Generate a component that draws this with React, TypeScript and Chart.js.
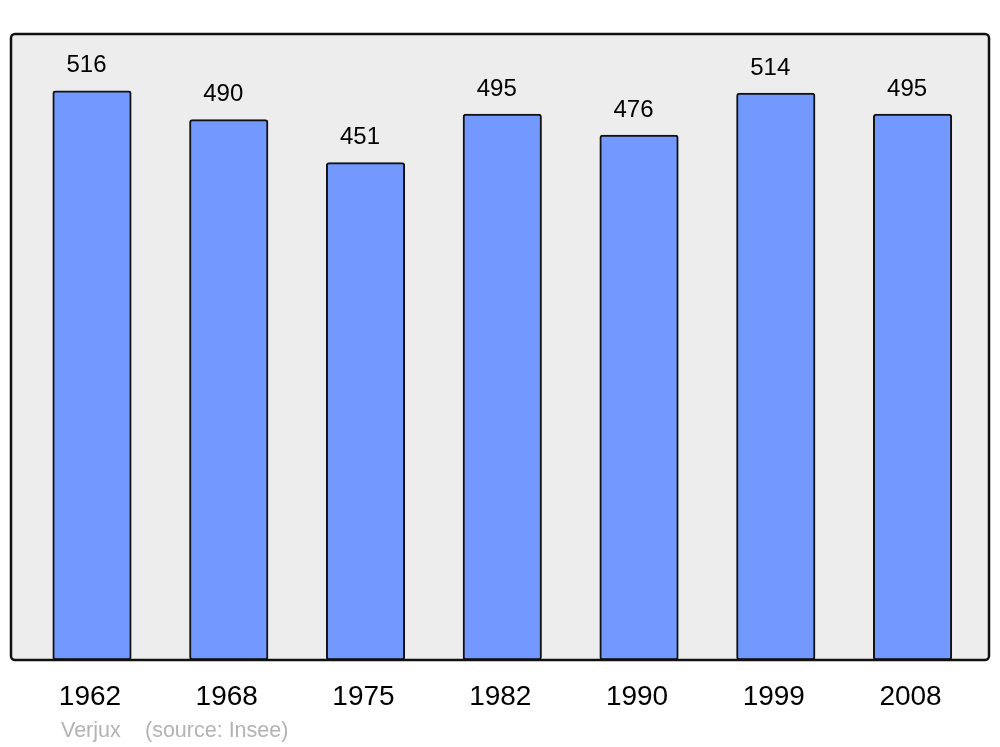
import React, { useEffect, useRef } from "react";
import { Chart, registerables } from "chart.js";

Chart.register(...registerables);

const years = ["1962", "1968", "1975", "1982", "1990", "1999", "2008"];
const population = [516, 490, 451, 495, 476, 514, 495];
const footerName = "Verjux";
const footerSource = "(source: Insee)";

const FONT = "'Liberation Sans', Arial, sans-serif";

const framePlugin = {
  id: "frame",
  beforeDatasetsDraw(chart: any) {
    const { ctx, chartArea } = chart;
    const { left, top, right, bottom } = chartArea;
    ctx.save();
    ctx.beginPath();
    ctx.roundRect(left, top, right - left, bottom - top, 4);
    ctx.fillStyle = "#ededed";
    ctx.fill();
    ctx.restore();
  },
  afterDatasetsDraw(chart: any) {
    const { ctx, chartArea } = chart;
    const { left, top, right, bottom } = chartArea;
    ctx.save();
    ctx.beginPath();
    ctx.roundRect(left, top, right - left, bottom - top, 4);
    ctx.lineWidth = 2.5;
    ctx.strokeStyle = "#111111";
    ctx.stroke();
    // value labels
    const meta = chart.getDatasetMeta(0);
    ctx.fillStyle = "#000";
    ctx.font = `24px ${FONT}`;
    ctx.textAlign = "center";
    ctx.textBaseline = "alphabetic";
    meta.data.forEach((bar: any, i: number) => {
      ctx.fillText(String(population[i]), bar.x - 5.5, bar.y - 18.5);
    });
    // footer
    ctx.fillStyle = "#b3b3b3";
    ctx.font = `21.5px ${FONT}`;
    ctx.textAlign = "left";
    ctx.fillText(footerName, 61, 737);
    ctx.fillText(footerSource, 145, 737);
    ctx.restore();
  },
};

export default function App() {
  const ref = useRef<HTMLCanvasElement>(null);
  useEffect(() => {
    document.body.style.margin = "0";
    const chart = new Chart(ref.current!, {
      type: "bar",
      data: {
        datasets: [
          {
            data: population.map((v, i) => ({ x: i, y: v })),
            backgroundColor: "#7399ff",
            borderColor: "#111111",
            borderWidth: 2,
            borderRadius: 3,
            borderSkipped: false,
            barThickness: 78.5,
          },
        ],
      },
      options: {
        animation: false,
        responsive: false,
        maintainAspectRatio: false,
        layout: { padding: { top: 34, left: 11, right: 11, bottom: 0 } },
        plugins: { legend: { display: false }, tooltip: { enabled: false } },
        scales: {
          x: {
            type: "linear",
            offset: false,
            min: -0.5923,
            max: 6.559,
            grid: { display: false, drawTicks: false, offset: false },
            border: { display: false },
            afterBuildTicks: (scale: any) => {
              scale.ticks = years.map((_, i) => ({ value: i }));
            },
            afterFit: (scale: any) => {
              scale.height = 87;
            },
            ticks: {
              autoSkip: false,
              maxRotation: 0,
              padding: 20,
              labelOffset: -2,
              color: "#000",
              font: { family: FONT, size: 28 },
              callback: (v: any) => years[v] ?? "",
            },
          },
          y: {
            display: false,
            min: 0,
            max: 567.6,
          },
        },
      },
      plugins: [framePlugin],
    } as any);
    return () => chart.destroy();
  }, []);
  return (
    <div style={{ width: 1000, height: 747, background: "#fff" }}>
      <canvas ref={ref} width={1000} height={747} style={{ display: "block" }} />
    </div>
  );
}
